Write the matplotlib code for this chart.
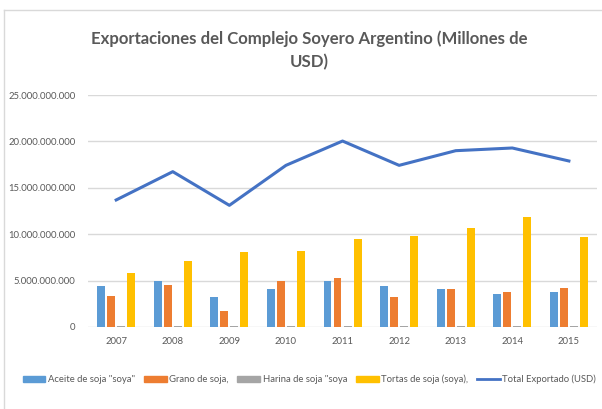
import matplotlib
matplotlib.use("Agg")
import matplotlib.pyplot as plt
import numpy as np
from matplotlib.patches import Patch
from matplotlib.lines import Line2D
from matplotlib.ticker import FuncFormatter

plt.rcParams['font.family'] = ['Lato', 'DejaVu Sans']

# datos (USD)
years = ['2007', '2008', '2009', '2010', '2011', '2012', '2013', '2014', '2015']
aceite = [4.38e9, 4.96e9, 3.23e9, 4.09e9, 4.96e9, 4.38e9, 4.09e9, 3.52e9, 3.81e9]
grano = [3.38e9, 4.53e9, 1.69e9, 4.96e9, 5.24e9, 3.23e9, 4.09e9, 3.81e9, 4.24e9]
harina = [0.1e9, 0.1e9, 0.1e9, 0.1e9, 0.1e9, 0.1e9, 0.1e9, 0.1e9, 0.1e9]
tortas = [5.82e9, 7.11e9, 8.08e9, 8.23e9, 9.52e9, 9.84e9, 10.67e9, 11.85e9, 9.70e9]
total = [13.69e9, 16.74e9, 13.11e9, 17.42e9, 20.04e9, 17.42e9, 19.0e9, 19.29e9, 17.89e9]

labels = ['Aceite de soja "soya"', 'Grano de soja,', 'Harina de soja "soya',
          'Tortas de soja (soya),', 'Total Exportado (USD)']
colors = ['#5B9BD5', '#ED7D31', '#A5A5A5', '#FFC000']
line_color = '#4472C4'
txt = '#595959'

fig = plt.figure(figsize=(6.02, 4.09), dpi=100)
ax = fig.add_axes([0.146, 0.2005, 0.846, 0.5672])

x = np.arange(len(years))
w = 0.14
step = 0.177
for i, (vals, c) in enumerate(zip([aceite, grano, harina, tortas], colors)):
    ax.bar(x + (i - 1.5) * step, vals, width=w, color=c, zorder=3)

ax.plot(x, total, color=line_color, linewidth=2.2, zorder=4)

ax.set_xlim(-0.5, len(years) - 0.5)
ax.set_ylim(0, 25e9)
ax.set_yticks(np.arange(0, 25e9 + 1, 5e9))
ax.yaxis.set_major_formatter(FuncFormatter(lambda v, p: '0' if v == 0 else f'{int(v):,}'.replace(',', '.')))
ax.set_xticks(x)
ax.set_xticklabels(years)
ax.grid(axis='y', color='#D9D9D9', linewidth=1, zorder=0)
for s in ax.spines.values():
    s.set_visible(False)
ax.tick_params(length=0, labelsize=6.8, colors=txt, pad=7)
ax.tick_params(axis='y', pad=9)

fig.text(0.513, 0.905, 'Exportaciones del Complejo Soyero Argentino (Millones de',
         ha='center', va='center', fontsize=12.1, fontweight='bold', color=txt)
fig.text(0.513, 0.848, 'USD)', ha='center', va='center', fontsize=12.1,
         fontweight='bold', color=txt)

handles = [Patch(color=c) for c in colors] + [Line2D([0], [0], color=line_color, linewidth=2)]
fig.legend(handles, labels, loc='center', bbox_to_anchor=(0.514, 0.072), ncol=5,
           frameon=False, fontsize=6.8, labelcolor=txt, handlelength=2.4,
           handleheight=0.6, handletextpad=0.3, columnspacing=0.9)

# borde del gráfico
fig.add_artist(Line2D([0.006, 0.006], [0, 0.975], color='#D9D9D9', linewidth=1))
fig.add_artist(Line2D([0.006, 1], [0.975, 0.975], color='#D9D9D9', linewidth=1))

fig.savefig('out.png', dpi=100)
